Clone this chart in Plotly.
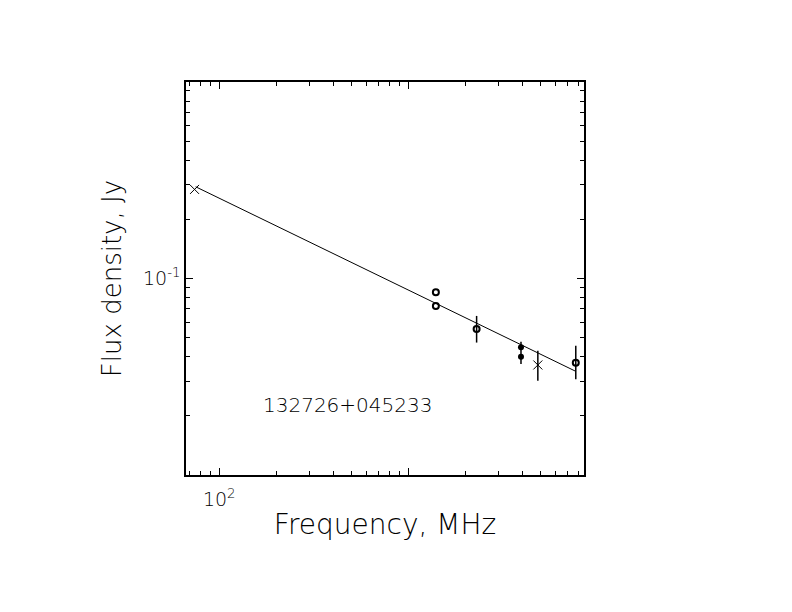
import plotly.graph_objects as go

# Radio spectrum of 132726+045233: frequency (MHz), flux density (Jy)
freq_cross = [74, 4850]
flux_cross = [0.284, 0.0363]
err_cross_up = [0.0, 0.0066]
err_cross_dn = [0.0, 0.0061]

freq_open = [1400, 1400, 2300, 7700]
flux_open = [0.0851, 0.0724, 0.0553, 0.0373]
err_open_up = [0.0, 0.0, 0.0092, 0.0082]
err_open_dn = [0.0, 0.0, 0.0081, 0.0066]

freq_filled = [3950, 3950]
flux_filled = [0.0447, 0.0400]
err_filled_up = [0.0030, 0.0034]
err_filled_dn = [0.0013, 0.0033]

# power-law fit, end points
fit_freq = [75, 7650]
fit_flux = [0.293, 0.0338]

source_name = "132726+045233"

x_major = [100, 1000]
x_major_text = ["10<sup>2</sup>", ""]
x_minor = [70, 80, 90, 200, 300, 400, 500, 600, 700, 800, 900,
           2000, 3000, 4000, 5000, 6000, 7000, 8000]
y_major = [0.1]
y_major_text = ["10<sup>-1</sup>"]
y_minor = [0.02, 0.03, 0.04, 0.05, 0.06, 0.07, 0.08, 0.09,
           0.2, 0.3, 0.4, 0.5, 0.6, 0.7, 0.8, 0.9]

FONT = "DejaVu Sans"


def errbar(up, dn):
    return dict(type="data", symmetric=False, array=up, arrayminus=dn,
                color="black", thickness=1.5, width=0)


fig = go.Figure()
fig.add_trace(go.Scatter(x=fit_freq, y=fit_flux, mode="lines",
                         line=dict(color="black", width=1)))
fig.add_trace(go.Scatter(x=freq_cross, y=flux_cross, mode="markers",
                         marker=dict(symbol="x-thin-open", size=9, color="black",
                                     line=dict(color="black", width=1)),
                         error_y=errbar(err_cross_up, err_cross_dn)))
fig.add_trace(go.Scatter(x=freq_open, y=flux_open, mode="markers",
                         marker=dict(symbol="circle-open", size=6, color="black",
                                     line=dict(color="black", width=2)),
                         error_y=errbar(err_open_up, err_open_dn)))
fig.add_trace(go.Scatter(x=freq_filled, y=flux_filled, mode="markers",
                         marker=dict(symbol="circle", size=6, color="black"),
                         error_y=errbar(err_filled_up, err_filled_dn)))

axis_common = dict(
    type="log", showline=True, linecolor="black", linewidth=1.5,
    mirror="ticks", ticks="inside", ticklen=7, tickwidth=1, tickcolor="black",
    showgrid=False, zeroline=False,
    tickfont=dict(family=FONT, size=19, color="black"),
)

fig.update_xaxes(
    **axis_common, range=[1.824, 3.930],
    tickmode="array", tickvals=x_major, ticktext=x_major_text,
    ticklabelstandoff=6,
    minor=dict(tickmode="array", tickvals=x_minor, ticks="inside", ticklen=4,
               tickwidth=1, tickcolor="black", showgrid=False),
    title=dict(text="Frequency, MHz", standoff=6,
               font=dict(family=FONT, size=28, color="black")),
)
fig.update_yaxes(
    **axis_common, range=[-2, 0],
    tickmode="array", tickvals=y_major, ticktext=y_major_text,
    minor=dict(tickmode="array", tickvals=y_minor, ticks="inside", ticklen=4,
               tickwidth=1, tickcolor="black", showgrid=False),
    title=dict(text="Flux density, Jy", standoff=14,
               font=dict(family=FONT, size=26, color="black")),
)

fig.add_annotation(text=source_name, xref="paper", yref="paper",
                   x=0.407, y=0.142, showarrow=False,
                   font=dict(family=FONT, size=20, color="black"))

fig.update_layout(
    width=784, height=604, autosize=False,
    margin=dict(l=178, r=208, t=74, b=137),
    paper_bgcolor="white", plot_bgcolor="white",
    showlegend=False,
    font=dict(family=FONT, color="black", weight=200),
)

fig.write_html("out.html")
